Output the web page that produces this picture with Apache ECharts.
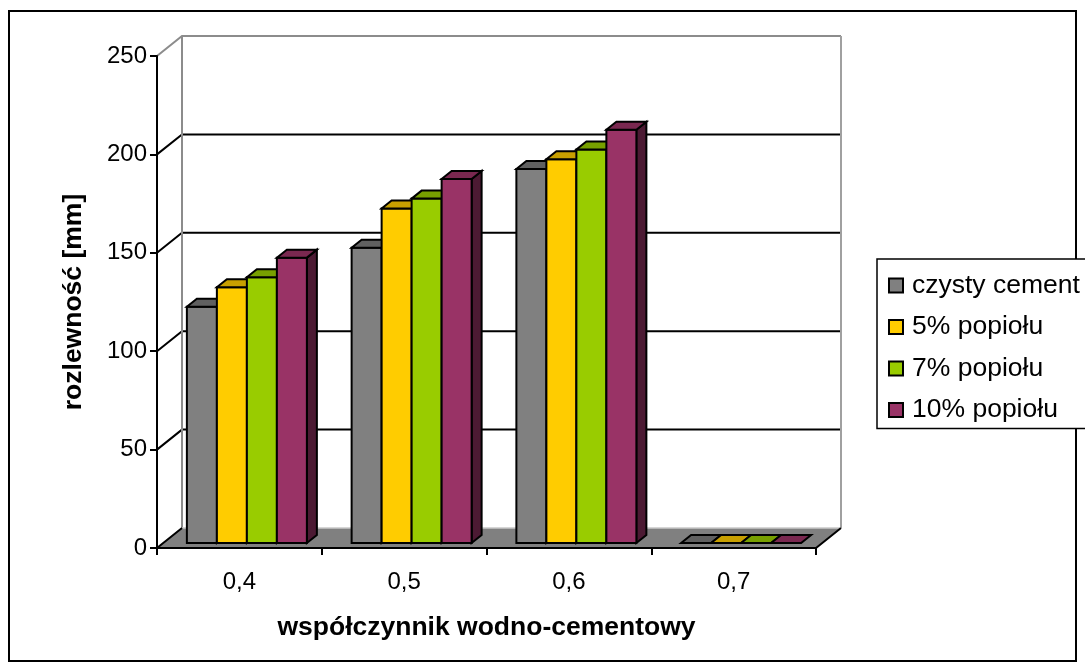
<!DOCTYPE html>
<html>
<head>
<meta charset="utf-8">
<script src="https://cdn.jsdelivr.net/npm/echarts@6/dist/echarts.min.js"></script>
<style>
  html, body { margin: 0; padding: 0; background: #fff; }
  #chart { width: 1085px; height: 670px; }
</style>
</head>
<body>
<div id="chart"></div>
<script>
// w/c ratio categories and spread-flow values (mm) per cement mix
const categories = ['0,4', '0,5', '0,6', '0,7'];
const seriesNames = ['czysty cement', '5% popiołu', '7% popiołu', '10% popiołu'];
const czystyCement = [120, 150, 190, 0];
const popiol5 = [130, 170, 195, 0];
const popiol7 = [135, 175, 200, 0];
const popiol10 = [145, 185, 210, 0];
const yTicks = [0, 50, 100, 150, 200, 250];

const seriesValues = [czystyCement, popiol5, popiol7, popiol10];

// face colours: front, top, side
const palette = [
  { front: '#808080', top: '#606060', side: '#404040' },
  { front: '#FFCC00', top: '#C8A000', side: '#806600' },
  { front: '#99CC00', top: '#78A000', side: '#4D6600' },
  { front: '#993366', top: '#7A2850', side: '#4C1A33' }
];

// oblique projection of the 3D box
const DEPTH_X = 25, DEPTH_Y = -20;     // back wall offset
const FRONT_X = 6, FRONT_Y = -5;       // bar front plane offset
const BAR_DX = 10, BAR_DY = -8;        // bar depth
const BAR_W = 30;
const GROUP_SHIFT = 1.5;

const FONT = '"Liberation Sans", Arial, sans-serif';

function wallsRenderer(params, api) {
  const band = api.size([1, 0])[0];
  const first = api.coord([0, 0]);
  const last = api.coord([categories.length - 1, 0]);
  const xL = first[0] - band / 2;
  const xR = last[0] + band / 2;
  const y0 = first[1];
  const yMax = api.coord([0, yTicks[yTicks.length - 1]])[1];
  const children = [];

  // back wall
  children.push({
    type: 'polygon',
    shape: { points: [[xL + DEPTH_X, yMax + DEPTH_Y], [xR + DEPTH_X, yMax + DEPTH_Y], [xR + DEPTH_X, y0 + DEPTH_Y], [xL + DEPTH_X, y0 + DEPTH_Y]] },
    style: { fill: '#fff', stroke: null }
  });
  // floor
  children.push({
    type: 'polygon',
    shape: { points: [[xL, y0], [xR, y0], [xR + DEPTH_X, y0 + DEPTH_Y], [xL + DEPTH_X, y0 + DEPTH_Y]] },
    style: { fill: '#808080', stroke: null }
  });
  // gridlines on the back wall and the left wall
  yTicks.forEach(function (v) {
    if (v === 0) return;
    const y = api.coord([0, v])[1];
    const isTop = v === yTicks[yTicks.length - 1];
    const col = isTop ? '#8C8C8C' : '#000';
    children.push({
      type: 'polyline',
      shape: { points: [[xL, y], [xL + DEPTH_X, y + DEPTH_Y], [xR + DEPTH_X, y + DEPTH_Y]] },
      style: { stroke: col, lineWidth: 2, fill: null }
    });
  });
  // wall edges
  children.push({
    type: 'line',
    shape: { x1: xL + DEPTH_X, y1: yMax + DEPTH_Y, x2: xL + DEPTH_X, y2: y0 + DEPTH_Y },
    style: { stroke: '#8C8C8C', lineWidth: 2 }
  });
  children.push({
    type: 'line',
    shape: { x1: xR + DEPTH_X, y1: yMax + DEPTH_Y, x2: xR + DEPTH_X, y2: y0 + DEPTH_Y },
    style: { stroke: '#A0A0A0', lineWidth: 2 }
  });
  children.push({
    type: 'line',
    shape: { x1: xL + DEPTH_X, y1: y0 + DEPTH_Y, x2: xR + DEPTH_X, y2: y0 + DEPTH_Y },
    style: { stroke: '#C8C8C8', lineWidth: 1.5 }
  });
  // floor edges
  children.push({
    type: 'polyline',
    shape: { points: [[xL + DEPTH_X, y0 + DEPTH_Y], [xL, y0], [xR, y0], [xR + DEPTH_X, y0 + DEPTH_Y]] },
    style: { stroke: '#000', lineWidth: 2, fill: null }
  });
  return { type: 'group', children: children };
}

function makeBarRenderer(si) {
  return function (params, api) {
    const cat = api.value(0);
    const val = api.value(1);
    const top = api.coord([cat, val]);
    const base = api.coord([cat, 0]);
    const x0 = top[0] + FRONT_X + GROUP_SHIFT - 2 * BAR_W + si * BAR_W;
    const yT = top[1] + FRONT_Y;
    const yB = base[1] + FRONT_Y;
    const c = palette[si];
    const line = { stroke: '#000', lineWidth: 2, lineJoin: 'miter' };
    const children = [];
    if (val > 0) {
      children.push({
        type: 'polygon',
        shape: { points: [[x0 + BAR_W, yT], [x0 + BAR_W + BAR_DX, yT + BAR_DY], [x0 + BAR_W + BAR_DX, yB + BAR_DY], [x0 + BAR_W, yB]] },
        style: Object.assign({ fill: c.side }, line)
      });
      children.push({
        type: 'polygon',
        shape: { points: [[x0, yT], [x0 + BAR_W, yT], [x0 + BAR_W, yB], [x0, yB]] },
        style: Object.assign({ fill: c.front }, line)
      });
    }
    children.push({
      type: 'polygon',
      shape: { points: [[x0, yT], [x0 + BAR_W, yT], [x0 + BAR_W + BAR_DX, yT + BAR_DY], [x0 + BAR_DX, yT + BAR_DY]] },
      style: Object.assign({ fill: c.top }, line)
    });
    return { type: 'group', children: children };
  };
}

const chart = echarts.init(document.getElementById('chart'), null, { renderer: 'canvas' });

const series = [{
  type: 'custom',
  name: '__walls',
  renderItem: wallsRenderer,
  data: [[0, 0]],
  silent: true,
  z: 1
}];
seriesNames.forEach(function (name, si) {
  series.push({
    type: 'custom',
    name: name,
    renderItem: makeBarRenderer(si),
    itemStyle: { color: palette[si].front, borderColor: '#000', borderWidth: 1.5 },
    data: seriesValues[si].map(function (v, ci) { return [ci, v]; }),
    z: 2 + si
  });
});

chart.setOption({
  animation: false,
  backgroundColor: '#fff',
  grid: { left: 157, right: 269, top: 56, bottom: 122 },
  xAxis: {
    type: 'category',
    data: categories,
    boundaryGap: true,
    z: 10,
    axisLine: { show: true, lineStyle: { color: '#000', width: 2 } },
    axisTick: { show: true, length: 7, lineStyle: { color: '#000', width: 2 } },
    axisLabel: { color: '#000', fontSize: 24, fontFamily: FONT, margin: 22 },
    splitLine: { show: false },
    name: 'współczynnik wodno-cementowy',
    nameLocation: 'middle',
    nameGap: 66,
    nameTextStyle: { color: '#000', fontSize: 26.5, fontWeight: 'bold', fontFamily: FONT }
  },
  yAxis: {
    type: 'value',
    min: 0,
    max: 250,
    interval: 50,
    z: 10,
    axisLine: { show: true, lineStyle: { color: '#000', width: 2 } },
    axisTick: { show: true, length: 7, lineStyle: { color: '#000', width: 2 } },
    axisLabel: { color: '#000', fontSize: 24, fontFamily: FONT, margin: 10 },
    splitLine: { show: false },
    name: 'rozlewność [mm]',
    nameLocation: 'middle',
    nameGap: 70,
    nameRotate: 90,
    nameTextStyle: { color: '#000', fontSize: 26.5, fontWeight: 'bold', fontFamily: FONT }
  },
  legend: {
    data: seriesNames,
    orient: 'vertical',
    left: 877,
    top: 259,
    padding: [13, 8, 5, 11],
    itemGap: 14.5,
    itemWidth: 14,
    itemHeight: 14,
    icon: 'rect',
    backgroundColor: '#fff',
    borderColor: '#000',
    borderWidth: 1.5,
    borderRadius: 0,
    textStyle: { color: '#000', fontSize: 26.5, fontFamily: FONT, lineHeight: 26.5, padding: [0, 0, 0, 4] }
  },
  graphic: [{
    type: 'rect',
    shape: { x: 9, y: 11, width: 1067, height: 650 },
    style: { fill: null, stroke: '#000', lineWidth: 2 },
    silent: true,
    z: -1
  }],
  series: series
});
</script>
</body>
</html>
